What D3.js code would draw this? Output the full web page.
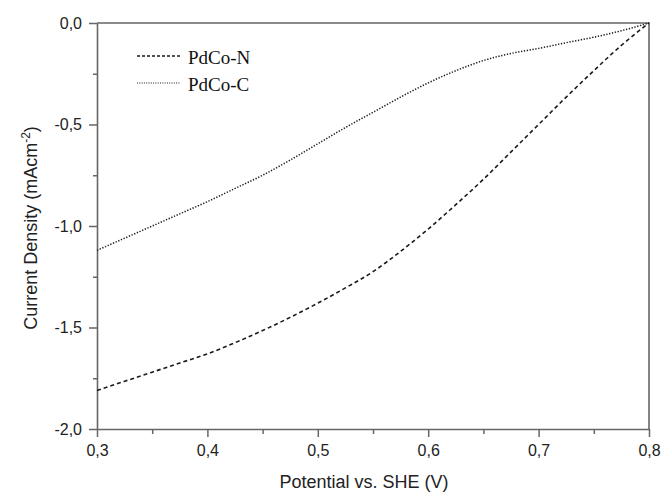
<!DOCTYPE html>
<html>
<head>
<meta charset="utf-8">
<script src="https://cdn.jsdelivr.net/npm/d3@7"></script>
<style>
  body { margin: 0; background: #fff; }
  .tick text { font-family: "Liberation Sans", Arial, sans-serif; font-size: 16px; fill: #222; }
</style>
</head>
<body>
<div id="chart"></div>
<script>
// data
var potential = [0.300, 0.325, 0.350, 0.375, 0.400, 0.425, 0.450, 0.475, 0.500, 0.525,
  0.550, 0.575, 0.600, 0.625, 0.650, 0.675, 0.700, 0.725, 0.750, 0.775, 0.800];
var pdcoN = [-1.81, -1.765, -1.72, -1.675, -1.63, -1.575, -1.515, -1.45, -1.38, -1.305,
  -1.225, -1.125, -1.015, -0.895, -0.77, -0.635, -0.50, -0.365, -0.235, -0.11, 0.0];
var pdcoC = [-1.12, -1.06, -1.00, -0.94, -0.88, -0.815, -0.75, -0.675, -0.595, -0.515,
  -0.44, -0.365, -0.295, -0.235, -0.185, -0.15, -0.125, -0.097, -0.07, -0.038, 0.0];
var seriesNames = ["PdCo-N", "PdCo-C"];
var xTicks = [0.3, 0.4, 0.5, 0.6, 0.7, 0.8];
var xMinor = [0.35, 0.45, 0.55, 0.65, 0.75];
var yTicks = [0.0, -0.5, -1.0, -1.5, -2.0];
var yMinor = [-0.25, -0.75, -1.25, -1.75];

var svgWidth = 666;
var svgHeight = 494;
var margin = { top: 23, right: 17, bottom: 65, left: 97 };
var width = svgWidth - margin.left - margin.right;
var height = svgHeight - margin.top - margin.bottom;

var axisColor = "#666";
var lineColor = "#1a1a1a";

var svg = d3.select("#chart")
  .append("svg")
  .attr("width", svgWidth)
  .attr("height", svgHeight);

var chartGroup = svg.append("g")
  .attr("transform", `translate(${margin.left}, ${margin.top})`);

var xScale = d3.scaleLinear().domain([0.3, 0.8]).range([0, width]);
var yScale = d3.scaleLinear().domain([-2.0, 0.0]).range([height, 0]);

var fmt = function(d) { return d3.format(".1f")(d).replace(".", ",").replace("−", "-"); };

// minor ticks first so the major axis draws on top
chartGroup.append("g")
  .attr("transform", `translate(0, ${height})`)
  .call(d3.axisBottom(xScale).tickValues(xMinor).tickSize(5).tickFormat(""))
  .call(g => g.select(".domain").remove())
  .call(g => g.selectAll("line").attr("stroke", axisColor).attr("stroke-width", 1.5));

chartGroup.append("g")
  .call(d3.axisLeft(yScale).tickValues(yMinor).tickSize(4).tickFormat(""))
  .call(g => g.select(".domain").remove())
  .call(g => g.selectAll("line").attr("stroke", axisColor).attr("stroke-width", 1.5));

// major axes
var xAxis = chartGroup.append("g")
  .attr("transform", `translate(0, ${height})`)
  .call(d3.axisBottom(xScale).tickValues(xTicks).tickSize(8).tickSizeOuter(0).tickPadding(8).tickFormat(fmt));

var yAxis = chartGroup.append("g")
  .call(d3.axisLeft(yScale).tickValues(yTicks).tickSize(8).tickSizeOuter(0).tickPadding(7).tickFormat(fmt));

[xAxis, yAxis].forEach(function(ax) {
  ax.select(".domain").attr("stroke", axisColor).attr("stroke-width", 1.6);
  ax.selectAll(".tick line").attr("stroke", axisColor).attr("stroke-width", 1.5);
});

// top and right frame
chartGroup.append("path")
  .attr("d", `M0,0H${width}V${height}`)
  .attr("fill", "none")
  .attr("stroke", axisColor)
  .attr("stroke-width", 1.6);

// curves
var styles = [
  { dash: "4,3", width: 1.6 },
  { dash: "1.3,1.6", width: 1.5 }
];
var allSeries = [pdcoN, pdcoC];

var line = d3.line()
  .x((d, i) => xScale(potential[i]))
  .y(d => yScale(d))
  .curve(d3.curveMonotoneX);

chartGroup.selectAll(".curve")
  .data(allSeries)
  .enter()
  .append("path")
  .attr("class", "curve")
  .attr("d", d => line(d))
  .attr("fill", "none")
  .attr("stroke", lineColor)
  .attr("stroke-width", (d, i) => styles[i].width)
  .attr("stroke-dasharray", (d, i) => styles[i].dash);

// legend
var legend = svg.append("g").attr("transform", "translate(137, 56)");
seriesNames.forEach(function(name, i) {
  var row = legend.append("g").attr("transform", `translate(0, ${i * 27})`);
  row.append("line")
    .attr("x1", 0).attr("x2", 43)
    .attr("y1", 0).attr("y2", 0)
    .attr("stroke", lineColor)
    .attr("stroke-width", i === 0 ? 1.3 : 1.2)
    .attr("stroke-dasharray", i === 0 ? "3,2" : "1,1.3");
  row.append("text")
    .attr("x", 51)
    .attr("y", 8)
    .attr("font-family", "'Liberation Serif', 'Times New Roman', serif")
    .attr("font-size", 19)
    .attr("fill", "#111")
    .text(name);
});

// axis titles
svg.append("text")
  .attr("x", 364)
  .attr("y", 488)
  .attr("text-anchor", "middle")
  .attr("font-family", "'Liberation Sans', Arial, sans-serif")
  .attr("font-size", 18)
  .attr("fill", "#222")
  .text("Potential vs. SHE (V)");

var yTitle = svg.append("text")
  .attr("transform", "translate(37, 228) rotate(-90)")
  .attr("text-anchor", "middle")
  .attr("font-family", "'Liberation Sans', Arial, sans-serif")
  .attr("font-size", 18)
  .attr("fill", "#222");
yTitle.append("tspan").text("Current Density (mAcm");
yTitle.append("tspan").attr("dy", -7).attr("font-size", 12).text("-2");
yTitle.append("tspan").attr("dy", 7).text(")");
</script>
</body>
</html>
